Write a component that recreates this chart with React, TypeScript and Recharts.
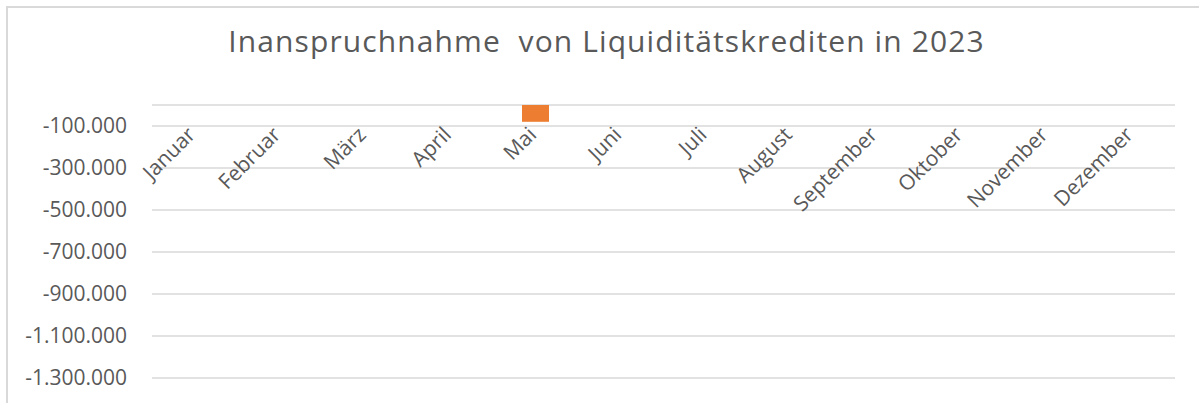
import React from "react";
import { BarChart, Bar, XAxis, YAxis, CartesianGrid } from "recharts";

const months = [
  "Januar", "Februar", "März", "April", "Mai", "Juni",
  "Juli", "August", "September", "Oktober", "November", "Dezember",
];
const credits: (number | null)[] = [null, null, null, null, -80000, null, null, null, null, null, null, null];
const yTicks = [0, -100000, -300000, -500000, -700000, -900000, -1100000, -1300000];
const yDomain = [-1500000, 0];
const title = "Inanspruchnahme  von Liquiditätskrediten in 2023";

const data = months.map((m, i) => ({ month: m, value: credits[i] }));

const fmt = (v: number) =>
  v === 0 ? "" : (v < 0 ? "-" : "") + Math.abs(v).toString().replace(/\B(?=(\d{3})+(?!\d))/g, ".");

const MonthTick = (props: any) => {
  const { x, payload } = props;
  const ax = x + 2;
  const ay = 105 + 31;
  return (
    <text
      x={ax}
      y={ay}
      transform={`rotate(-45, ${ax}, ${ay})`}
      textAnchor="end"
      fill="#595959"
      fontSize={21}
      fontFamily="Open Sans"
    >
      {payload.value}
    </text>
  );
};

export default function App() {
  return (
    <div style={{ position: "absolute", left: 0, top: 0, width: 1199, height: 403, background: "#fff", overflow: "hidden" }}>
      <div
        style={{
          position: "absolute", left: 6, top: 6, width: 1300, height: 500,
          borderLeft: "2px solid #d9d9d9", borderTop: "2px solid #d9d9d9",
        }}
      />
      <div
        style={{
          position: "absolute", left: 0, top: 20, width: 1213, textAlign: "center",
          fontFamily: "Open Sans", fontSize: 30, letterSpacing: 1.1, color: "#595959", whiteSpace: "pre",
        }}
      >
        {title}
      </div>
      <div style={{ position: "absolute", left: 0, top: 0 }}>
        <BarChart
          width={1199}
          height={440}
          data={data}
          margin={{ top: 104, right: 24, bottom: 20, left: 0 }}
        >
          <CartesianGrid vertical={false} stroke="#d9d9d9" strokeWidth={1.5} />
          <XAxis
            dataKey="month"
            orientation="top"
            height={1}
            axisLine={false}
            tickLine={false}
            tickSize={0}
            tickMargin={0}
            interval={0}
            tick={<MonthTick />}
          />
          <YAxis
            type="number"
            domain={yDomain}
            ticks={yTicks}
            width={152}
            axisLine={false}
            tickLine={false}
            tickSize={0}
            tickMargin={25}
            tickFormatter={fmt}
            tick={{ fill: "#595959", fontSize: 21, fontFamily: "Open Sans" }}
          />
          <Bar dataKey="value" fill="#ED7D31" barSize={27} isAnimationActive={false} />
        </BarChart>
      </div>
    </div>
  );
}
